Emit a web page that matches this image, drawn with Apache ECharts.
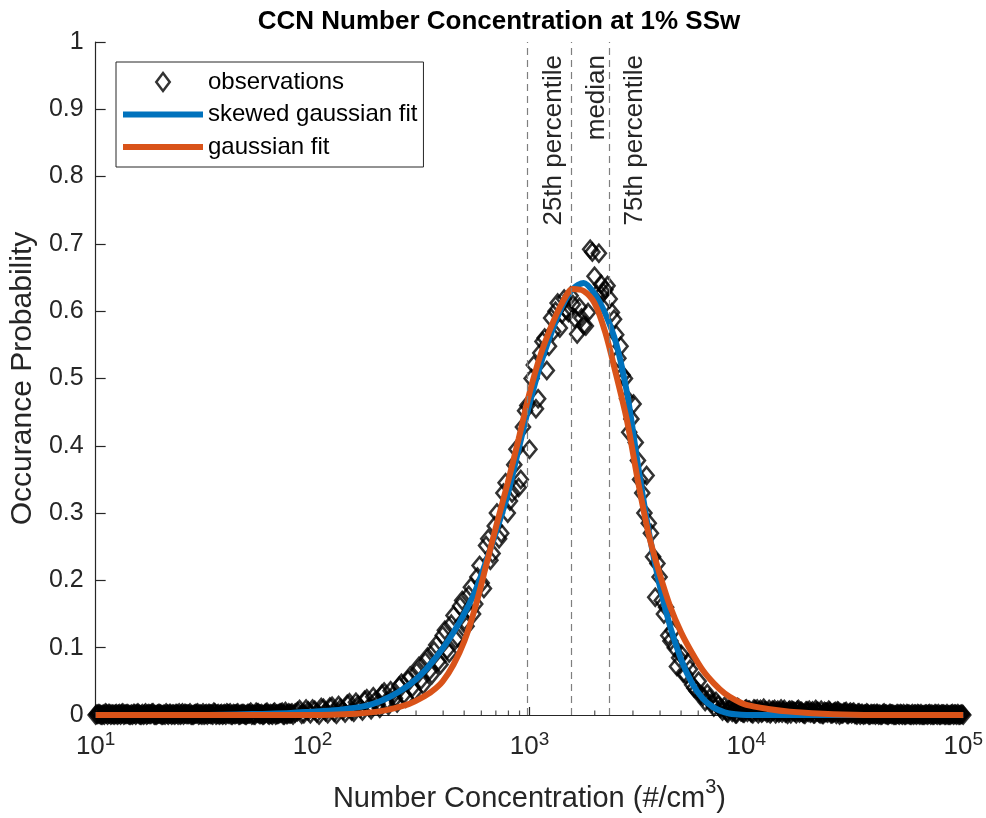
<!DOCTYPE html>
<html>
<head>
<meta charset="utf-8">
<script src="https://cdn.jsdelivr.net/npm/echarts@6/dist/echarts.min.js"></script>
<style>
html,body{margin:0;padding:0;background:#fff;}
#chart{width:986px;height:818px;}
</style>
</head>
<body>
<div id="chart"></div>
<script>
// ---------------- data (x stored as log10 of number concentration) ----------------
const observations = [
// even bins
[1.00,0.000],[1.02,0.001],[1.04,0.000],[1.06,0.002],[1.08,0.001],[1.10,0.000],[1.12,0.002],[1.14,0.001],
[1.16,0.000],[1.18,0.002],[1.20,0.001],[1.22,0.000],[1.24,0.001],[1.26,0.003],[1.28,0.000],[1.30,0.001],
[1.32,0.000],[1.34,0.002],[1.36,0.001],[1.38,0.000],[1.40,0.003],[1.42,0.001],[1.44,0.000],[1.46,0.002],
[1.48,0.001],[1.50,0.000],[1.52,0.002],[1.54,0.000],[1.56,0.001],[1.58,0.002],[1.60,0.000],[1.62,0.003],
[1.64,0.001],[1.66,0.000],[1.68,0.002],[1.70,0.002],[1.72,0.000],[1.74,0.004],[1.76,0.001],[1.78,0.002],
[1.80,0.000],[1.82,0.003],[1.84,0.001],[1.86,0.004],[1.88,0.001],[1.90,0.002],
[1.92,0.003],[1.94,0.008],[1.96,0.002],[1.98,0.006],[2.00,0.009],[2.02,0.003],[2.04,0.011],[2.06,0.005],
[2.08,0.012],[2.10,0.004],[2.12,0.014],[2.14,0.007],[2.16,0.016],[2.18,0.006],[2.20,0.019],[2.22,0.010],
[2.24,0.022],[2.26,0.012],[2.28,0.027],[2.30,0.016],[2.32,0.031],[2.34,0.020],[2.36,0.036],[2.38,0.025],
[2.40,0.043],
[2.42,0.030],[2.44,0.052],[2.46,0.041],[2.48,0.064],[2.50,0.052],[2.52,0.079],[2.54,0.066],[2.56,0.095],
[2.58,0.080],[2.60,0.118],[2.62,0.097],[2.64,0.135],[2.66,0.112],[2.68,0.162],[2.70,0.140],[2.72,0.178],
[2.74,0.150],[2.76,0.205],[2.78,0.196],[2.80,0.252],[2.82,0.230],[2.84,0.281],[2.86,0.262],[2.88,0.330],
[2.90,0.300],[2.92,0.330],[2.94,0.395],[2.96,0.350],[2.98,0.452],[3.00,0.395],[3.02,0.520],[3.04,0.470],
[3.06,0.555],[3.08,0.512],[3.10,0.590],
[3.12,0.600],[3.14,0.575],[3.16,0.618],[3.18,0.598],[3.19,0.623],[3.20,0.610],[3.21,0.589],[3.22,0.566],
[3.23,0.606],[3.24,0.590],[3.25,0.579],[3.26,0.578],[3.28,0.692],[3.30,0.652],[3.31,0.625],[3.32,0.686],
[3.34,0.628],[3.36,0.638],[3.38,0.598],[3.40,0.565],
[3.42,0.548],[3.44,0.500],[3.46,0.420],[3.48,0.462],[3.50,0.378],[3.52,0.330],[3.54,0.356],[3.56,0.270],
[3.58,0.175],[3.60,0.205],[3.62,0.150],[3.64,0.118],[3.66,0.125],[3.68,0.072],[3.70,0.090],[3.72,0.060],
[3.74,0.068],[3.76,0.040],[3.78,0.050],[3.80,0.028],[3.82,0.032],[3.84,0.018],[3.86,0.020],[3.88,0.010],
[3.90,0.013],
[3.92,0.009],[3.94,0.006],[3.96,0.011],[3.98,0.005],[4.00,0.009],[4.02,0.004],[4.04,0.008],[4.06,0.006],
[4.08,0.010],[4.10,0.004],[4.12,0.007],[4.14,0.005],[4.16,0.009],[4.18,0.003],[4.20,0.007],[4.22,0.005],
[4.24,0.008],[4.26,0.003],[4.28,0.006],[4.30,0.004],[4.32,0.008],[4.34,0.002],[4.36,0.005],[4.38,0.007],
[4.40,0.003],[4.42,0.006],[4.44,0.002],[4.46,0.005],[4.48,0.004],
[4.50,0.001],[4.52,0.003],[4.54,0.000],[4.56,0.002],[4.58,0.001],[4.60,0.002],[4.62,0.000],[4.64,0.001],
[4.66,0.002],[4.68,0.000],[4.70,0.001],[4.72,0.000],[4.74,0.002],[4.76,0.000],[4.78,0.001],[4.80,0.000],
[4.82,0.000],[4.84,0.001],[4.86,0.000],[4.88,0.000],[4.90,0.001],[4.92,0.000],[4.94,0.000],[4.96,0.001],
[4.98,0.000],[5.00,0.000],
// odd bins
[1.01,0.001],[1.03,0.000],[1.05,0.002],[1.07,0.000],[1.09,0.001],[1.11,0.002],[1.13,0.000],[1.15,0.001],
[1.17,0.000],[1.19,0.002],[1.21,0.000],[1.23,0.003],[1.25,0.001],[1.27,0.000],[1.29,0.002],[1.31,0.000],
[1.33,0.001],[1.35,0.000],[1.37,0.002],[1.39,0.000],[1.41,0.002],[1.43,0.001],[1.45,0.000],[1.47,0.003],
[1.49,0.000],[1.51,0.002],[1.53,0.001],[1.55,0.003],[1.57,0.000],[1.59,0.001],[1.61,0.002],[1.63,0.000],
[1.65,0.002],[1.67,0.001],[1.69,0.000],[1.71,0.002],[1.73,0.000],[1.75,0.003],[1.77,0.000],[1.79,0.004],
[1.81,0.001],[1.83,0.000],[1.85,0.003],[1.87,0.000],[1.89,0.003],
[1.91,0.000],[1.93,0.005],[1.95,0.001],[1.97,0.009],[1.99,0.002],[2.01,0.007],[2.03,0.000],[2.05,0.010],
[2.07,0.002],[2.09,0.013],[2.11,0.001],[2.13,0.010],[2.15,0.003],[2.17,0.018],[2.19,0.004],[2.21,0.015],
[2.23,0.006],[2.25,0.024],[2.27,0.008],[2.29,0.021],[2.31,0.010],[2.33,0.034],[2.35,0.014],[2.37,0.029],
[2.39,0.018],
[2.41,0.047],[2.43,0.025],[2.45,0.058],[2.47,0.035],[2.49,0.072],[2.51,0.045],[2.53,0.086],[2.55,0.060],
[2.57,0.104],[2.59,0.075],[2.61,0.126],[2.63,0.092],[2.65,0.148],[2.67,0.115],[2.69,0.170],[2.71,0.132],
[2.73,0.190],[2.75,0.165],[2.77,0.222],[2.79,0.188],[2.81,0.262],[2.83,0.240],[2.85,0.300],[2.87,0.270],
[2.89,0.345],[2.91,0.318],[2.93,0.372],[2.95,0.338],[2.97,0.428],[2.99,0.460],[3.01,0.500],[3.03,0.455],
[3.05,0.538],[3.07,0.560],[3.09,0.548],
[3.11,0.570],[3.13,0.612],[3.15,0.596],[3.17,0.602],[3.27,0.598],[3.29,0.688],[3.33,0.640],[3.35,0.632],
[3.37,0.618],[3.39,0.588],
[3.41,0.530],[3.43,0.505],[3.45,0.470],[3.47,0.440],[3.49,0.405],[3.51,0.350],[3.53,0.300],[3.55,0.285],
[3.57,0.235],[3.59,0.225],[3.61,0.170],[3.63,0.160],[3.65,0.110],[3.67,0.100],[3.69,0.085],[3.71,0.062],
[3.73,0.078],[3.75,0.045],[3.77,0.036],[3.79,0.030],[3.81,0.020],[3.83,0.025],[3.85,0.012],[3.87,0.015],
[3.89,0.006],
[3.91,0.004],[3.93,0.010],[3.95,0.002],[3.97,0.008],[3.99,0.003],[4.01,0.007],[4.03,0.002],[4.05,0.009],
[4.07,0.003],[4.09,0.006],[4.11,0.002],[4.13,0.008],[4.15,0.003],[4.17,0.006],[4.19,0.001],[4.21,0.007],
[4.23,0.002],[4.25,0.005],[4.27,0.001],[4.29,0.007],[4.31,0.002],[4.33,0.005],[4.35,0.001],[4.37,0.004],
[4.39,0.002],[4.41,0.005],[4.43,0.000],[4.45,0.004],[4.47,0.001],[4.49,0.003],
[4.51,0.000],[4.53,0.002],[4.55,0.001],[4.57,0.000],[4.59,0.002],[4.61,0.000],[4.63,0.002],[4.65,0.000],
[4.67,0.001],[4.69,0.000],[4.71,0.002],[4.73,0.000],[4.75,0.001],[4.77,0.000],[4.79,0.002],[4.81,0.000],
[4.83,0.001],[4.85,0.000],[4.87,0.002],[4.89,0.000],[4.91,0.001],[4.93,0.000],[4.95,0.002],[4.97,0.000],
[4.99,0.001],
// half bins in the tails
[1.005,0.001],[1.015,0.002],[1.025,0.000],[1.035,0.001],[1.045,0.003],[1.055,0.000],[1.065,0.002],[1.075,0.001],
[1.085,0.000],[1.095,0.002],[1.105,0.001],[1.115,0.000],[1.125,0.003],[1.135,0.001],[1.145,0.002],[1.155,0.000],
[1.165,0.001],[1.175,0.002],[1.185,0.000],[1.195,0.003],[1.205,0.000],[1.215,0.002],[1.225,0.001],[1.235,0.000],
[1.245,0.002],[1.255,0.001],[1.265,0.003],[1.275,0.000],[1.285,0.001],[1.295,0.002],[1.305,0.000],[1.315,0.001],
[1.325,0.003],[1.335,0.000],[1.345,0.002],[1.355,0.001],[1.365,0.000],[1.375,0.002],[1.385,0.003],[1.395,0.001],
[1.405,0.000],[1.415,0.002],[1.425,0.001],[1.435,0.003],[1.445,0.000],[1.455,0.001],[1.465,0.002],[1.475,0.000],
[1.485,0.001],[1.495,0.003],[1.505,0.001],[1.515,0.000],[1.525,0.002],[1.535,0.001],[1.545,0.004],[1.555,0.000],
[1.565,0.002],[1.575,0.001],[1.585,0.000],[1.595,0.002],[1.605,0.003],[1.615,0.001],[1.625,0.000],[1.635,0.002],
[1.645,0.001],[1.655,0.003],[1.665,0.000],[1.675,0.002],[1.685,0.001],[1.695,0.000],[1.705,0.002],[1.715,0.004],
[1.725,0.001],[1.735,0.000],[1.745,0.003],[1.755,0.001],[1.765,0.002],[1.775,0.000],[1.785,0.003],[1.795,0.001],
[1.805,0.002],[1.815,0.000],[1.825,0.004],[1.835,0.001],[1.845,0.002],[1.855,0.003],[1.865,0.000],[1.875,0.005],
[1.885,0.001],[1.895,0.002],[1.905,0.003],
[3.905,0.007],[3.915,0.003],[3.925,0.009],[3.935,0.004],[3.945,0.006],[3.955,0.002],[3.965,0.010],[3.975,0.005],
[3.985,0.003],[3.995,0.008],[4.005,0.004],[4.015,0.007],[4.025,0.003],[4.035,0.009],[4.045,0.005],[4.055,0.002],
[4.065,0.008],[4.075,0.004],[4.085,0.006],[4.095,0.003],[4.105,0.008],[4.115,0.004],[4.125,0.006],[4.135,0.002],
[4.145,0.007],[4.155,0.005],[4.165,0.003],[4.175,0.008],[4.185,0.004],[4.195,0.006],[4.205,0.002],[4.215,0.006],
[4.225,0.004],[4.235,0.007],[4.245,0.003],[4.255,0.005],[4.265,0.002],[4.275,0.006],[4.285,0.004],[4.295,0.003],
[4.305,0.006],[4.315,0.002],[4.325,0.005],[4.335,0.003],[4.345,0.007],[4.355,0.001],[4.365,0.004],[4.375,0.003],
[4.385,0.005],[4.395,0.002],[4.405,0.004],[4.415,0.001],[4.425,0.005],[4.435,0.003],[4.445,0.002],[4.455,0.004],
[4.465,0.001],[4.475,0.003],[4.485,0.002],[4.495,0.004],[4.505,0.001],[4.515,0.003],[4.525,0.000],[4.535,0.002],
[4.545,0.001],[4.555,0.003],[4.565,0.000],[4.575,0.002],[4.585,0.001],[4.595,0.000],[4.605,0.002],[4.615,0.001],
[4.625,0.000],[4.635,0.003],[4.645,0.001],[4.655,0.000],[4.665,0.002],[4.675,0.001],[4.685,0.000],[4.695,0.002],
[4.705,0.000],[4.715,0.001],[4.725,0.002],[4.735,0.000],[4.745,0.001],[4.755,0.000],[4.765,0.002],[4.775,0.001],
[4.785,0.000],[4.795,0.001],[4.805,0.002],[4.815,0.000],[4.825,0.001],[4.835,0.000],[4.845,0.002],[4.855,0.001],
[4.865,0.000],[4.875,0.001],[4.885,0.002],[4.895,0.000],[4.905,0.001],[4.915,0.000],[4.925,0.002],[4.935,0.000],
[4.945,0.001],[4.955,0.000],[4.965,0.001],[4.975,0.002],[4.985,0.000],[4.995,0.001]
];

const skewedGaussianFit = [
[1.00,0.000],[1.50,0.000],[1.80,0.002],[1.90,0.003],[2.00,0.005],[2.10,0.007],[2.20,0.011],[2.25,0.014],
[2.30,0.019],[2.35,0.026],[2.40,0.035],[2.45,0.046],[2.50,0.060],[2.55,0.078],[2.60,0.099],[2.65,0.123],
[2.70,0.151],[2.75,0.184],[2.80,0.228],[2.85,0.276],[2.90,0.328],[2.95,0.395],[3.00,0.462],[3.05,0.520],
[3.10,0.567],[3.15,0.607],[3.20,0.633],[3.25,0.642],[3.30,0.626],[3.35,0.596],[3.40,0.552],[3.45,0.478],
[3.50,0.372],[3.55,0.273],[3.60,0.193],[3.65,0.130],[3.70,0.082],[3.75,0.047],[3.80,0.024],[3.85,0.011],
[3.90,0.004],[3.95,0.001],[4.00,0.000],[4.50,0.000],[5.00,0.000]
];

const gaussianFit = [
[1.00,0.000],[2.00,0.000],[2.20,0.002],[2.30,0.005],[2.35,0.008],[2.40,0.012],[2.45,0.017],[2.50,0.025],
[2.55,0.035],[2.60,0.050],[2.65,0.075],[2.70,0.110],[2.75,0.160],[2.80,0.222],[2.85,0.285],[2.90,0.345],
[2.95,0.410],[3.00,0.478],[3.05,0.534],[3.10,0.577],[3.15,0.612],[3.20,0.633],[3.25,0.630],[3.30,0.612],
[3.35,0.568],[3.40,0.505],[3.45,0.437],[3.50,0.348],[3.55,0.268],[3.60,0.210],[3.65,0.160],[3.70,0.122],
[3.75,0.092],[3.80,0.066],[3.85,0.047],[3.90,0.032],[3.95,0.022],[4.00,0.015],[4.10,0.009],[4.20,0.005],
[4.40,0.001],[4.60,0.000],[5.00,0.000]
];

const percentileNames = ['25th percentile', 'median', '75th percentile'];
const percentileValues = [981, 1556, 2333];

const minorTickValues = [
20,30,40,50,60,70,80,90,
200,300,400,500,600,700,800,900,
2000,3000,4000,5000,6000,7000,8000,9000,
20000,30000,40000,50000,60000,70000,80000,90000
];

const seriesNames = ['observations', 'skewed gaussian fit', 'gaussian fit'];
const titleText = 'CCN Number Concentration at 1% SSw';
const xAxisTitle = ['Number Concentration (#/cm', '3', ')'];
const yAxisTitle = 'Occurance Probability';

// ---------------- chart ----------------
const FONT = "'Liberation Sans', Arial, Helvetica, sans-serif";
const AX = '#262626';
const toXY = arr => arr.map(p => [Math.pow(10, p[0]), p[1]]);

const chart = echarts.init(document.getElementById('chart'), null, {renderer: 'canvas'});
chart.setOption({
  animation: false,
  backgroundColor: '#ffffff',
  textStyle: {fontFamily: FONT},
  title: {
    text: titleText,
    left: 494, top: 4, textAlign: 'center',
    textStyle: {fontFamily: FONT, fontSize: 26, fontWeight: 'bold', color: '#000'}
  },
  grid: {left: 95, right: 21, top: 42, bottom: 100, containLabel: false},
  legend: {
    orient: 'vertical',
    left: 116, top: 62,
    padding: [7, 6, 7, 7],
    backgroundColor: '#fff',
    borderColor: AX, borderWidth: 1,
    itemWidth: 80, itemHeight: 18, itemGap: 6.5,
    symbolKeepAspect: true,
    textStyle: {fontFamily: FONT, fontSize: 24, color: '#000', lineHeight: 26},
    data: [
      {name: seriesNames[0], icon: 'path://M0,-1L0.75,0L0,1L-0.75,0Z',
       itemStyle: {color: 'rgba(0,0,0,0)', borderColor: '#000', borderWidth: 2.5}},
      {name: seriesNames[1], icon: 'path://M0,0H80V6H0Z', itemStyle: {color: '#0072BD', borderWidth: 0}},
      {name: seriesNames[2], icon: 'path://M0,0H80V6H0Z', itemStyle: {color: '#D95319', borderWidth: 0}}
    ]
  },
  xAxis: {
    type: 'log', logBase: 10, min: 10, max: 100000,
    name: '{a|' + xAxisTitle[0] + '}{s|' + xAxisTitle[1] + '}{a|' + xAxisTitle[2] + '}',
    nameLocation: 'middle', nameGap: 62,
    nameTextStyle: {
      rich: {
        a: {fontFamily: FONT, fontSize: 29, color: AX, lineHeight: 36, verticalAlign: 'bottom'},
        s: {fontFamily: FONT, fontSize: 20, color: AX, lineHeight: 20, verticalAlign: 'top'}
      }
    },
    axisLine: {show: true, lineStyle: {color: AX, width: 1.2}},
    axisTick: {show: true, inside: true, length: 8, lineStyle: {color: AX, width: 1.2}},
    minorTick: {show: false},
    splitLine: {show: false},
    axisLabel: {
      margin: 15,
      formatter: v => '{b|10}{s|' + Math.round(Math.log10(v)) + '}',
      rich: {
        b: {fontFamily: FONT, fontSize: 26, color: AX, lineHeight: 30, verticalAlign: 'bottom'},
        s: {fontFamily: FONT, fontSize: 19, color: AX, lineHeight: 14, verticalAlign: 'top'}
      }
    }
  },
  yAxis: {
    type: 'value', min: 0, max: 1, interval: 0.1,
    name: yAxisTitle, nameLocation: 'middle', nameGap: 55,
    nameTextStyle: {fontFamily: FONT, fontSize: 30, color: AX},
    axisLine: {show: true, lineStyle: {color: AX, width: 1.2}},
    axisTick: {show: true, inside: true, length: 10, lineStyle: {color: AX, width: 1.2}},
    splitLine: {show: false},
    axisLabel: {margin: 12, fontFamily: FONT, fontSize: 25, color: AX}
  },
  series: [
    {
      name: 'minor ticks', type: 'scatter', silent: true, z: 1,
      data: minorTickValues.map(v => [v, 0]),
      symbol: 'rect', symbolSize: [1.2, 4.5], symbolOffset: [0, -2.25],
      itemStyle: {color: AX}, clip: false
    },
    {
      name: 'percentiles', type: 'scatter', silent: true, z: 1, data: [],
      markLine: {
        silent: true, symbol: ['none', 'none'], animation: false,
        lineStyle: {color: '#7f7f7f', width: 1.2, type: [7, 5]},
        label: {show: true, position: 'insideEndBottom', formatter: '{b}', distance: 13,
                fontFamily: FONT, fontSize: 26, color: AX},
        emphasis: {disabled: true},
        data: percentileValues.map((v, i) => ({name: percentileNames[i], xAxis: v}))
      }
    },
    {
      name: seriesNames[0], type: 'scatter', z: 2, clip: false, large: false,
      data: toXY(observations),
      symbol: 'diamond', symbolSize: [14, 17],
      itemStyle: {color: 'rgba(0,0,0,0)', borderColor: '#000', borderWidth: 2.6}
    },
    {
      name: seriesNames[1], type: 'line', z: 3, smooth: 0.3,
      data: toXY(skewedGaussianFit), showSymbol: false, symbol: 'none',
      lineStyle: {color: '#0072BD', width: 6}, itemStyle: {color: '#0072BD'}
    },
    {
      name: seriesNames[2], type: 'line', z: 4, smooth: 0.3,
      data: toXY(gaussianFit), showSymbol: false, symbol: 'none',
      lineStyle: {color: '#D95319', width: 6}, itemStyle: {color: '#D95319'}
    }
  ]
});
</script>
</body>
</html>
